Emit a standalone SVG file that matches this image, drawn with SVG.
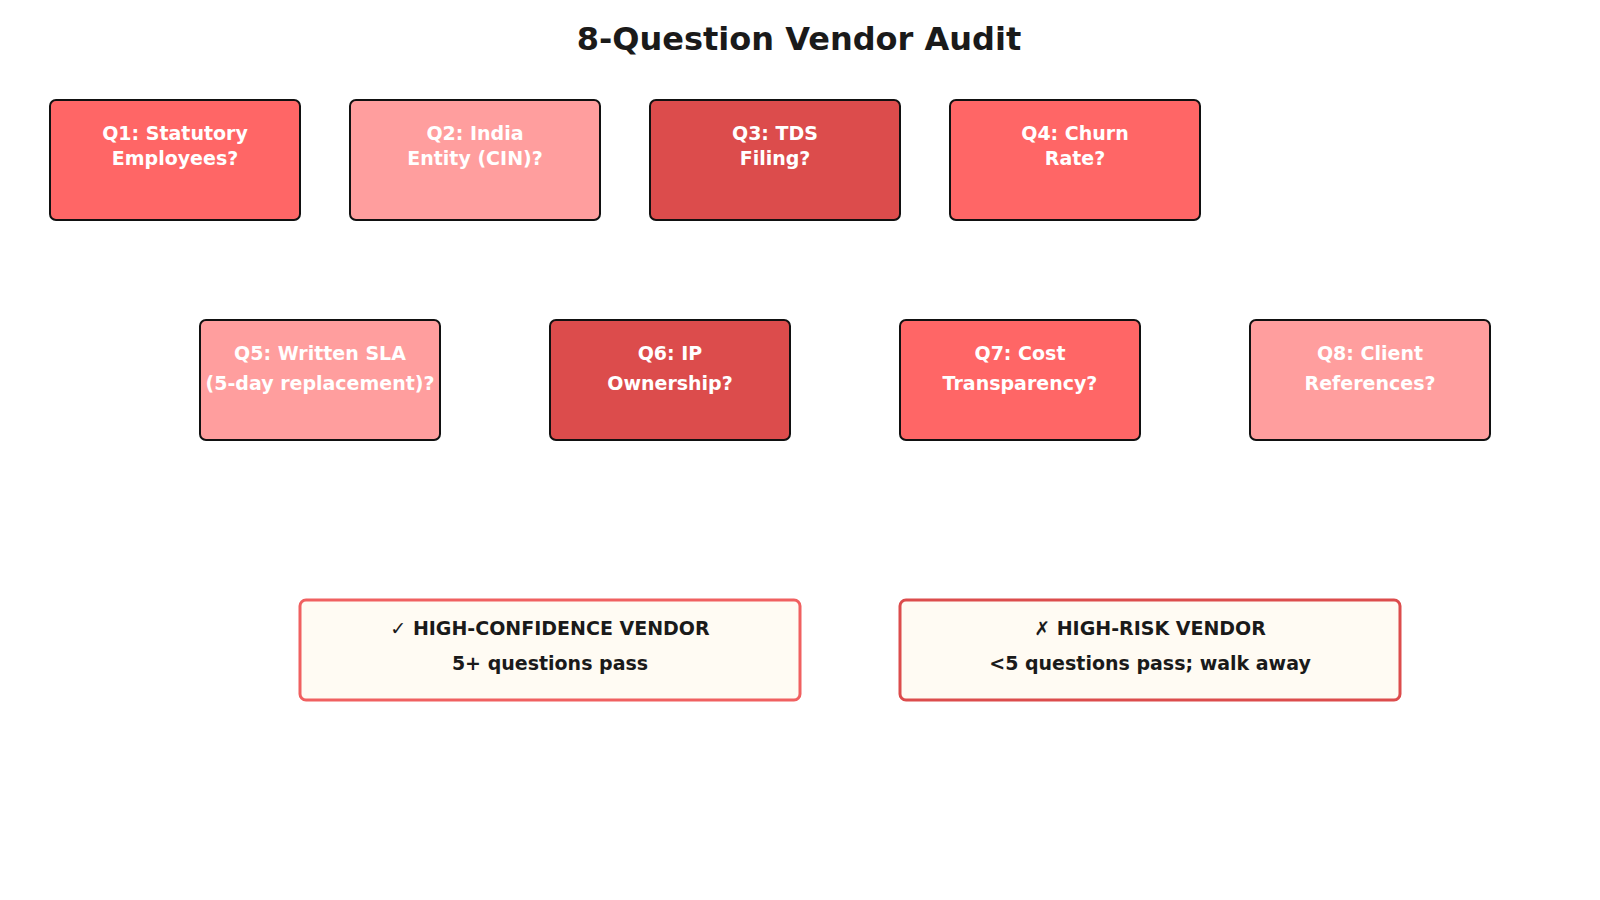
<svg xmlns="http://www.w3.org/2000/svg" width="1600" height="900" viewBox="0 0 1600 900">
<style>
text{font-family:"DejaVu Sans",sans-serif;font-weight:bold;text-anchor:middle}
.q{stroke:#111;stroke-width:2}
.qt{fill:#fff;font-size:19px}
.a{fill:#ff6666}.b{fill:#ff9e9e}.c{fill:#dc4c4c}
.r{fill:#fffbf3;stroke-width:3}
.rt{fill:#1a1a1a;font-size:19px}
</style>
<rect width="1600" height="900" fill="#fff"/>
<text x="799" y="50" font-size="32" fill="#1a1a1a">8-Question Vendor Audit</text>
<g id="q1"><rect class="q a" x="50" y="100" width="250" height="120" rx="6"/><text class="qt" x="175" y="140">Q1: Statutory</text><text class="qt" x="175" y="165">Employees?</text></g>
<g id="q2"><rect class="q b" x="350" y="100" width="250" height="120" rx="6"/><text class="qt" x="475" y="140">Q2: India</text><text class="qt" x="475" y="165">Entity (CIN)?</text></g>
<g id="q3"><rect class="q c" x="650" y="100" width="250" height="120" rx="6"/><text class="qt" x="775" y="140">Q3: TDS</text><text class="qt" x="775" y="165">Filing?</text></g>
<g id="q4"><rect class="q a" x="950" y="100" width="250" height="120" rx="6"/><text class="qt" x="1075" y="140">Q4: Churn</text><text class="qt" x="1075" y="165">Rate?</text></g>
<g id="q5"><rect class="q b" x="200" y="320" width="240" height="120" rx="6"/><text class="qt" x="320" y="360">Q5: Written SLA</text><text class="qt" x="320" y="390">(5-day replacement)?</text></g>
<g id="q6"><rect class="q c" x="550" y="320" width="240" height="120" rx="6"/><text class="qt" x="670" y="360">Q6: IP</text><text class="qt" x="670" y="390">Ownership?</text></g>
<g id="q7"><rect class="q a" x="900" y="320" width="240" height="120" rx="6"/><text class="qt" x="1020" y="360">Q7: Cost</text><text class="qt" x="1020" y="390">Transparency?</text></g>
<g id="q8"><rect class="q b" x="1250" y="320" width="240" height="120" rx="6"/><text class="qt" x="1370" y="360">Q8: Client</text><text class="qt" x="1370" y="390">References?</text></g>
<g id="pass"><rect class="r" x="300" y="600" width="500" height="100" rx="6" stroke="#f06060"/><text class="rt" x="550" y="635">✓ HIGH-CONFIDENCE VENDOR</text><text class="rt" x="550" y="670">5+ questions pass</text></g>
<g id="fail"><rect class="r" x="900" y="600" width="500" height="100" rx="6" stroke="#dc4c4c"/><text class="rt" x="1150" y="635">✗ HIGH-RISK VENDOR</text><text class="rt" x="1150" y="670">&lt;5 questions pass; walk away</text></g>
<g id="connectors"/>
</svg>
